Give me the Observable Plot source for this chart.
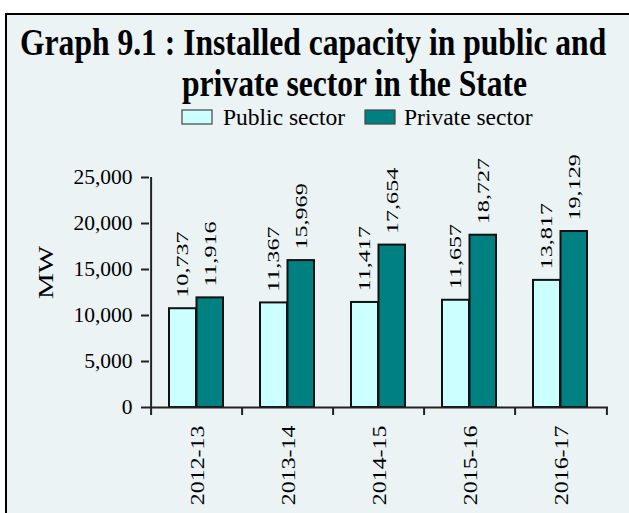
<!DOCTYPE html>
<html>
<head>
<meta charset="utf-8">
<script src="https://cdn.jsdelivr.net/npm/d3@7"></script>
<script src="https://cdn.jsdelivr.net/npm/@observablehq/plot@0.6"></script>
<style>
  html, body { margin: 0; padding: 0; background: #ffffff; width: 629px; height: 513px; overflow: hidden; }
  body { position: relative; font-family: "Liberation Serif", "Times New Roman", serif; }
  #panel { position: absolute; left: 5px; top: 13px; width: 660px; height: 560px;
           border-left: 2px solid #000; border-top: 2px solid #000; background: #ebf3f5; }
  #header { position: absolute; left: 0; top: 0; }
  #chart { position: absolute; left: 0; top: 140px; }
  #chart svg { overflow: visible; }
  #chart svg, #chart svg text, #chart svg g { font-family: "Liberation Serif", "Times New Roman", serif !important; }
</style>
</head>
<body>
<div id="panel"></div>
<svg id="header" width="629" height="140"></svg>
<div id="chart"></div>
<script>
// ---- data ----
const titleLines = ["Graph 9.1 : Installed capacity in public and", "private sector in the State"];
const years = ["2012-13", "2013-14", "2014-15", "2015-16", "2016-17"];
const publicSector = [10737, 11367, 11417, 11657, 13817];
const privateSector = [11916, 15969, 17654, 18727, 19129];
const seriesNames = ["Public sector", "Private sector"];
const seriesColors = ["#ccffff", "#008080"];
const yTicks = [0, 5000, 10000, 15000, 20000, 25000];
const yLabel = "MW";

const fmt = d3.format(",");
const pub = years.map((year, i) => ({year, value: publicSector[i]}));
const pri = years.map((year, i) => ({year, value: privateSector[i]}));
const serif = "Liberation Serif, Times New Roman, serif";

// ---- header: title + legend ----
const header = d3.select("#header");
const titleX = [20, 182], titleY = [55, 96];
titleLines.forEach((t, i) => {
  header.append("text")
    .attr("transform", `translate(${titleX[i]},${titleY[i]}) scale(1,1.2)`)
    .attr("font-family", serif)
    .attr("font-weight", "bold")
    .attr("font-size", 31.6)
    .attr("fill", "#000")
    .text(t);
});
const legX = [182, 365], legTextX = [223, 404];
seriesNames.forEach((name, i) => {
  header.append("rect")
    .attr("x", legX[i]).attr("y", 110).attr("width", 30).attr("height", 14)
    .attr("fill", seriesColors[i]).attr("stroke", "#444").attr("stroke-width", 1.2);
  header.append("text")
    .attr("x", legTextX[i]).attr("y", 125)
    .attr("font-family", serif)
    .attr("font-size", 23.5)
    .attr("fill", "#000")
    .text(name);
});

// ---- chart ----
const half = (629 - 149 - 21) / years.length / 2;
const chart = Plot.plot({
  width: 629,
  height: 373,
  marginTop: 37,
  marginBottom: 106,
  marginLeft: 149,
  marginRight: 21,
  style: {background: "transparent", fontFamily: serif, color: "#000", overflow: "visible"},
  x: {domain: years, padding: 0, axis: null},
  y: {domain: [0, 25000], axis: null},
  marks: [
    Plot.barY(pub, {x: "year", y: "value", fill: seriesColors[0], stroke: "#111", strokeWidth: 2, insetLeft: 18, insetRight: 46}),
    Plot.barY(pri, {x: "year", y: "value", fill: seriesColors[1], stroke: "#111", strokeWidth: 2, insetLeft: 45.5, insetRight: 19}),
    Plot.ruleY([0], {stroke: "#222", strokeWidth: 2}),
    Plot.ruleX([years[0]], {x: d => d, dx: -half, y1: 0, y2: 25000, stroke: "#222", strokeWidth: 2}),
    Plot.ruleX(years, {x: d => d, dx: -half, y1: 0, y2: 0, insetBottom: -8, stroke: "#222", strokeWidth: 2}),
    Plot.ruleX([years[years.length - 1]], {x: d => d, dx: half, y1: 0, y2: 0, insetBottom: -8, stroke: "#222", strokeWidth: 2}),
    Plot.axisY({ticks: yTicks, tickFormat: fmt, tickSize: 8, tickPadding: 9, fontSize: 21.5, fontFamily: serif, stroke: "#222", strokeWidth: 2, label: null}),
    Plot.text([yLabel], {frameAnchor: "left", text: d => d, rotate: -90, lineAnchor: "middle", textAnchor: "middle", dx: -103, dy: -20, fontSize: 21.5, fontFamily: serif}),
    Plot.text(pub, {x: "year", y: "value", text: d => fmt(d.value), rotate: -90, textAnchor: "start", lineAnchor: "middle", dx: -14.4, dy: -11, fontSize: 17, fontFamily: serif}),
    Plot.text(pri, {x: "year", y: "value", text: d => fmt(d.value), rotate: -90, textAnchor: "start", lineAnchor: "middle", dx: 13.3, dy: -11, fontSize: 17, fontFamily: serif}),
    Plot.text(years, {x: d => d, y: 0, text: d => d, rotate: -90, textAnchor: "end", lineAnchor: "middle", dx: 1.5, dy: 18, fontSize: 18, fontFamily: serif})
  ]
});
document.getElementById("chart").appendChild(chart);

// stretch rotated labels along their length to match the reference lettering
chart.querySelectorAll("text").forEach(t => {
  const tr = t.getAttribute("transform") || "";
  if (!tr.includes("rotate(-90)")) return;
  const s = t.textContent;
  const k = s === yLabel ? 1.35 : years.includes(s) ? 1.33 : 1.42;
  t.setAttribute("transform", tr + ` scale(${k},1)`);
});
</script>
</body>
</html>
